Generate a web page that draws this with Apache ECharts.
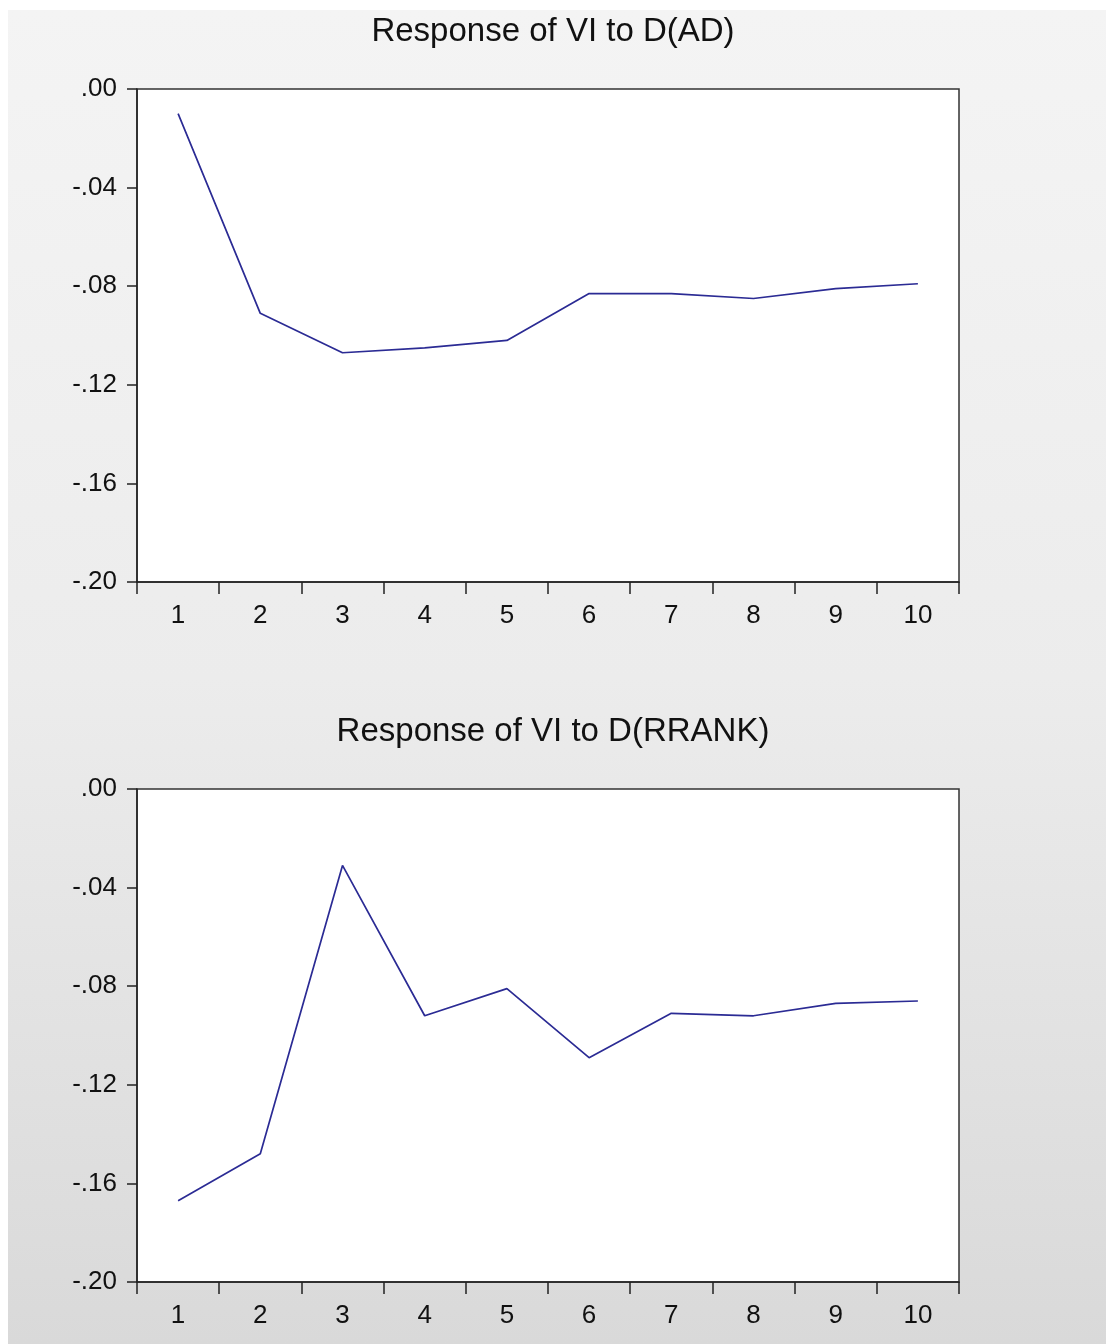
<!DOCTYPE html>
<html>
<head>
<meta charset="utf-8">
<script src="https://cdn.jsdelivr.net/npm/echarts@6/dist/echarts.min.js"></script>
<style>
  html, body { margin: 0; padding: 0; background: #fff; }
  #bg {
    position: absolute; left: 8px; top: 10px; width: 1098px; height: 1334px;
    background: linear-gradient(to bottom, #f4f4f4 0%, #ececec 50%, #d9d9d9 100%);
  }
  #main { position: absolute; left: 0; top: 0; width: 1106px; height: 1344px; }
</style>
</head>
<body>
<div id="bg"></div>
<div id="main"></div>
<script>
// periods 1..10
const periods = ['1', '2', '3', '4', '5', '6', '7', '8', '9', '10']
const respAD = [-0.010, -0.091, -0.107, -0.105, -0.102, -0.083, -0.083, -0.085, -0.081, -0.079]
const respRRANK = [-0.167, -0.148, -0.031, -0.092, -0.081, -0.109, -0.091, -0.092, -0.087, -0.086]
const titles = ['Response of VI to D(AD)', 'Response of VI to D(RRANK)']

const fmtY = function (v) {
  if (Math.abs(v) < 1e-9) return '.00'
  return '-' + Math.abs(v).toFixed(2).slice(1)
}

const font = 'Liberation Sans, Arial, sans-serif'
const tops = [89, 789]

const grids = tops.map(t => ({
  left: 137,
  top: t,
  width: 822,
  height: 493,
  show: true,
  backgroundColor: '#fff',
  borderColor: '#333',
  borderWidth: 1.5
}))

const xAxes = tops.map((t, i) => ({
  type: 'category',
  gridIndex: i,
  data: periods,
  boundaryGap: true,
  axisLine: { onZero: false, lineStyle: { color: '#222', width: 1.5 } },
  axisTick: { show: true, inside: false, length: 12, lineStyle: { color: '#222', width: 1.5 } },
  axisLabel: { color: '#111', fontSize: 26, fontFamily: font, margin: 21 },
  splitLine: { show: false }
}))

const yAxes = tops.map((t, i) => ({
  type: 'value',
  gridIndex: i,
  min: -0.2,
  max: 0,
  interval: 0.04,
  axisLine: { show: true, lineStyle: { color: '#222', width: 1.5 } },
  axisTick: { show: true, inside: false, length: 10, lineStyle: { color: '#222', width: 1.5 } },
  axisLabel: { color: '#111', fontSize: 26, fontFamily: font, margin: 20, formatter: fmtY },
  splitLine: { show: false }
}))

const series = [respAD, respRRANK].map((d, i) => ({
  type: 'line',
  xAxisIndex: i,
  yAxisIndex: i,
  data: d,
  symbol: 'none',
  smooth: false,
  lineStyle: { color: '#2b2b94', width: 1.7 }
}))

const option = {
  animation: false,
  backgroundColor: 'transparent',
  title: titles.map((txt, i) => ({
    text: txt,
    left: 548,
    top: tops[i] - 79,
    textAlign: 'center',
    textStyle: { color: '#111', fontSize: 33, fontWeight: 'normal', fontFamily: font }
  })),
  grid: grids,
  xAxis: xAxes,
  yAxis: yAxes,
  series: series
}

const chart = echarts.init(document.getElementById('main'))
chart.setOption(option)
</script>
</body>
</html>
